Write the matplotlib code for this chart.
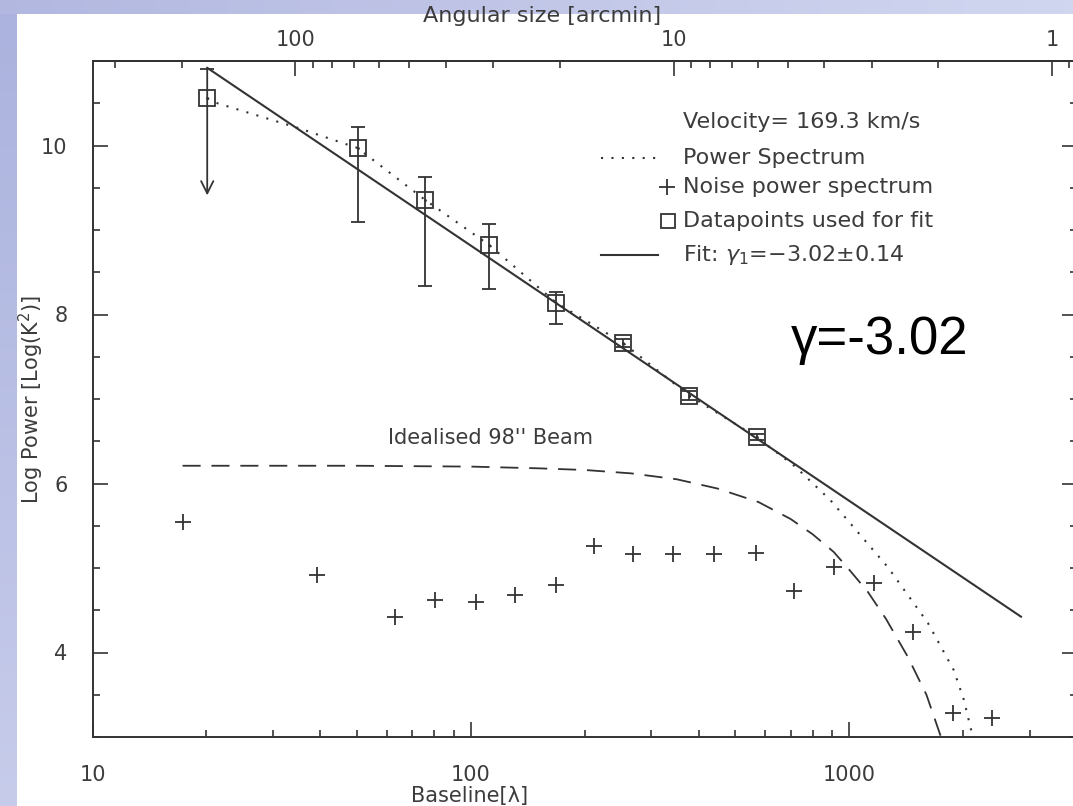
import numpy as np
import matplotlib.pyplot as plt
from matplotlib.ticker import MultipleLocator, NullFormatter

# power spectrum bins used for the fit (baseline in wavelengths, log power)
fit_baseline = [20.1, 50.2, 75.5, 112, 168, 253, 378, 569]
fit_power = [10.56, 9.97, 9.36, 8.82, 8.14, 7.66, 7.04, 6.55]
fit_err_lo = [1.15, 0.88, 1.02, 0.52, 0.25, 0.05, 0.05, 0.04]
fit_err_hi = [0.34, 0.25, 0.27, 0.25, 0.13, 0.05, 0.05, 0.04]

# full power spectrum (dotted)
ps_baseline = [20.1, 21.4, 34.8, 50.2, 75.5, 112, 168, 253, 378, 569, 720, 893,
               1265, 1614, 1890, 2009, 2122]
ps_power = [10.56, 10.50, 10.21, 9.97, 9.36, 8.82, 8.14, 7.66, 7.04, 6.55, 6.20,
            5.80, 5.01, 4.35, 3.79, 3.44, 3.0]

# noise power spectrum
noise_baseline = [17.3, 39.3, 63.1, 80.5, 103, 131, 168, 211, 269, 343, 438, 566,
                  713, 910, 1161, 1472, 1878, 2381]
noise_power = [5.54, 4.92, 4.42, 4.62, 4.60, 4.68, 4.80, 5.26, 5.17, 5.16, 5.17,
               5.18, 4.73, 5.01, 4.82, 4.24, 3.28, 3.22]

# idealised 98" beam
beam_baseline = [17.3, 50, 100, 150, 200, 265, 350, 449, 576, 700, 800, 910, 1000,
                 1119, 1250, 1428, 1600, 1748]
beam_power = [6.21, 6.21, 6.20, 6.18, 6.16, 6.12, 6.05, 5.94, 5.78, 5.58, 5.40,
              5.19, 4.98, 4.72, 4.40, 3.95, 3.50, 3.0]

# power-law fit
fit_slope = -3.02
fit_intercept = 14.855
fit_range = [20.1, 2845]

ARCMIN = 3437.75  # arcmin per radian
ink = '#333333'
txt = '#3c3c3c'

W, H = 1073, 806
fig = plt.figure(figsize=(W / 100, H / 100), dpi=100)
fig.patch.set_facecolor('white')

# lavender frame on the left and top edges
bg = np.ones((H, W, 3))
left_col = np.linspace([0.67, 0.70, 0.87], [0.78, 0.80, 0.92], H)
bg[:, :17, :] = left_col[:, None, :]
top_row = np.linspace([0.70, 0.72, 0.88], [0.82, 0.84, 0.94], W)
bg[:14, :, :] = top_row[None, :, :]
fig.figimage(bg, xo=0, yo=0, origin='upper', zorder=-1)

ax = fig.add_axes([92.5 / W, 1 - 737 / H, 984.5 / W, 676 / H])
ax.set_xscale('log')
ax.set_xlim(10, 4000)
ax.set_ylim(3, 11)

# dotted power spectrum
ax.plot(ps_baseline, ps_power, color=ink, lw=1.5, ls=(0, (1, 4)))

# fitted power law
fx = np.array(fit_range)
ax.plot(fx, fit_intercept + fit_slope * np.log10(fx), color=ink, lw=1.5)

# beam
ax.plot(beam_baseline, beam_power, color=ink, lw=1.3, ls=(0, (10, 6)))

# noise
ax.plot(noise_baseline, noise_power, ls='none', marker='+', ms=12, mew=1.3, color=ink)

# datapoints with error bars; the first one is an upper limit
ax.errorbar(fit_baseline[1:], fit_power[1:],
            yerr=[fit_err_lo[1:], fit_err_hi[1:]],
            fmt='s', ms=12, mfc='none', mec=ink, mew=1.3,
            ecolor=ink, elinewidth=1.3, capsize=5, capthick=1.3)
ax.plot(fit_baseline[:1], fit_power[:1], 's', ms=12, mfc='none', mec=ink, mew=1.3)
x0, y0 = fit_baseline[0], fit_power[0]
ax.annotate('', xy=(x0, y0 - fit_err_lo[0]), xytext=(x0, y0 + fit_err_hi[0]),
            arrowprops=dict(arrowstyle='->', lw=1.3, color=ink,
                            mutation_scale=22, shrinkA=0, shrinkB=0))
ax.plot([x0], [y0 + fit_err_hi[0]], marker='_', ms=10, mew=1.3, color=ink)
ax.plot(fit_baseline, fit_power, ls='none', marker='.', ms=2, color=ink)

# axes styling
for s in ax.spines.values():
    s.set_color(ink)
    s.set_linewidth(1.4)
ax.set_xticks([10, 100, 1000], ['10', '100', '1000'])
ax.xaxis.set_minor_formatter(NullFormatter())
ax.set_yticks([4, 6, 8, 10], ['4', '6', '8', '10'])
ax.yaxis.set_minor_locator(MultipleLocator(0.5))
ax.tick_params(which='both', direction='in', color=ink, width=1.2,
               labelcolor=txt, labelsize=15, top=False, right=True)
ax.tick_params(which='major', length=11)
ax.tick_params(which='minor', length=5)
ax.tick_params(axis='x', pad=20)
ax.tick_params(axis='y', pad=18)

ax.set_xlabel('Baseline[λ]', fontsize=15, color=txt)
ax.xaxis.set_label_coords(0.383, -0.072)
ax.set_ylabel(r'Log Power [Log(K$^2$)]', fontsize=15, color=txt)
ax.yaxis.set_label_coords(-0.047, 0.5)

# angular size axis on top
def to_arcmin(b):
    b = np.asarray(b, dtype=float)
    with np.errstate(divide='ignore'):
        return ARCMIN / b

sec = ax.secondary_xaxis('top', functions=(to_arcmin, to_arcmin))
sec.set_xticks([100, 10, 1], ['100', '10', '1'])
sec.xaxis.set_minor_formatter(NullFormatter())
sec.tick_params(which='both', direction='in', color=ink, width=1.2,
                labelcolor=txt, labelsize=15, pad=8)
sec.tick_params(which='major', length=11)
sec.tick_params(which='minor', length=5)
sec.spines['top'].set_color(ink)
sec.spines['top'].set_linewidth(1.4)
sec.set_xlabel('Angular size [arcmin]', fontsize=16, color=txt)
sec.xaxis.set_label_coords(0.457, 1.058, transform=ax.transAxes)

# key
tr = ax.transAxes
kx = 0.600
kfs = 16
ax.text(kx, 0.910, 'Velocity= 169.3 km/s', transform=tr, fontsize=kfs, color=txt, va='center')
ax.plot([0.516, 0.574], [0.857, 0.857], transform=tr, color=ink, lw=1.5, ls=(0, (1, 4)))
ax.text(kx, 0.857, 'Power Spectrum', transform=tr, fontsize=kfs, color=txt, va='center')
ax.plot([0.584], [0.814], transform=tr, marker='+', ms=11, mew=1.3, color=ink)
ax.text(kx, 0.814, 'Noise power spectrum', transform=tr, fontsize=kfs, color=txt, va='center')
ax.plot([0.585], [0.763], transform=tr, marker='s', ms=9.5, mfc='none', mec=ink, mew=1.3)
ax.text(kx, 0.763, 'Datapoints used for fit', transform=tr, fontsize=kfs, color=txt, va='center')
ax.plot([0.516, 0.574], [0.713, 0.713], transform=tr, color=ink, lw=1.5)
ax.text(kx, 0.713, r'Fit: $\gamma_1$=$-$3.02$\pm$0.14', transform=tr, fontsize=kfs,
        color=txt, va='center')

ax.text(60.5, 6.54, "Idealised 98'' Beam", fontsize=15, color=txt, va='center')

ax.text(700, 7.70, 'γ=-3.02', fontsize=38, color='black', va='center',
        family=['Liberation Sans', 'DejaVu Sans'])

fig.savefig('out.png', dpi=100)
